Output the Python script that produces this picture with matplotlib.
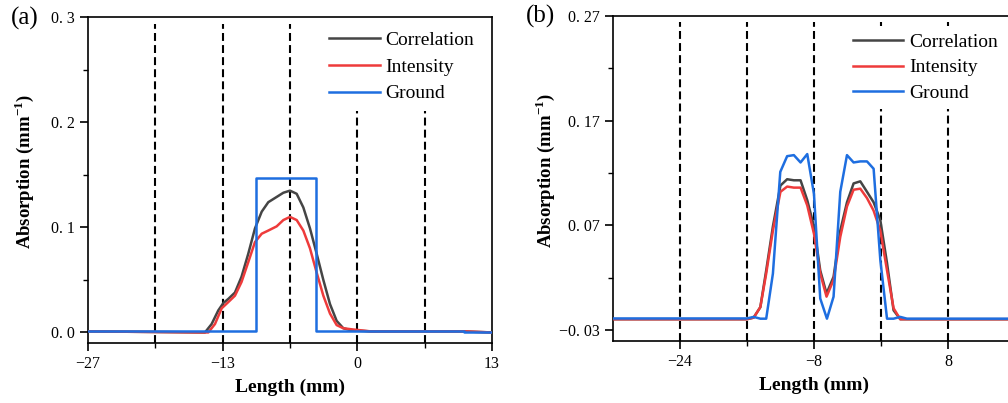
import matplotlib
matplotlib.use("Agg")
import matplotlib.pyplot as plt
import numpy as np

plt.rcParams['font.family'] = ['Liberation Serif', 'DejaVu Serif']
plt.rcParams['mathtext.fontset'] = 'custom'
plt.rcParams['mathtext.rm'] = 'Liberation Serif'
plt.rcParams['mathtext.bf'] = 'Liberation Serif:bold'

# ---- panel (a) data ----
a_corr_x = [-27, -15.42, -14.76, -14.1, -13.6, -13.1, -12.45, -11.8, -11.13, -10.47, -9.8,
            -9.15, -8.32, -7.66, -7.0, -6.34, -5.68, -5.02, -4.36, -3.7, -3.04, -2.38,
            -1.72, -0.9, 1.0, 10.2, 13]
a_corr_y = [0.001, 0.000, 0.008, 0.021, 0.028, 0.032, 0.038, 0.053, 0.075, 0.099, 0.115,
            0.124, 0.129, 0.133, 0.135, 0.132, 0.119, 0.099, 0.075, 0.050, 0.027, 0.011,
            0.004, 0.002, 0.001, 0.001, 0.0]
a_int_x = [-27, -15.09, -14.43, -13.76, -13.1, -12.45, -11.8, -11.13, -10.47, -9.8, -9.15,
           -8.32, -7.66, -7.0, -6.34, -5.68, -5.02, -4.36, -3.7, -3.04, -2.38, -1.72,
           -0.9, 1.0, 10.2, 13]
a_int_y = [0.001, 0.0, 0.008, 0.023, 0.029, 0.035, 0.048, 0.067, 0.086, 0.094, 0.097,
           0.101, 0.107, 0.110, 0.107, 0.097, 0.080, 0.057, 0.035, 0.018, 0.007, 0.004,
           0.003, 0.001, 0.001, 0.0]
a_gnd_x = [-27, -10.37, -10.37, -4.4, -4.4, 10.2, 10.2, 13]
a_gnd_y = [0.001, 0.001, 0.147, 0.147, 0.001, 0.001, 0.0, 0.0]

# ---- panel (b) data ----
b_corr_x = [-32, -16.0, -15.2, -14.4, -13.7, -12.9, -12.0, -11.2, -10.4, -9.6, -8.8, -8.0,
            -7.25, -6.5, -5.66, -4.86, -4.06, -3.27, -2.47, -1.67, -0.88, -0.08, 0.72,
            1.5, 2.3, 16]
b_corr_y = [-0.0195, -0.0195, -0.018, -0.008, 0.027, 0.069, 0.108, 0.114, 0.113, 0.113,
            0.094, 0.069, 0.027, 0.005, 0.021, 0.065, 0.092, 0.110, 0.112, 0.102, 0.092,
            0.075, 0.034, -0.011, -0.0195, -0.0195]
b_int_x = b_corr_x
b_int_y = [-0.0195, -0.0195, -0.018, -0.008, 0.024, 0.065, 0.102, 0.107, 0.106, 0.106,
           0.089, 0.062, 0.024, 0.002, 0.018, 0.059, 0.088, 0.104, 0.105, 0.096, 0.084,
           0.065, 0.027, -0.009, -0.0195, -0.0195]
b_gnd_x = [-32, -16.0, -15.2, -14.4, -13.7, -12.9, -12.02, -11.2, -10.4, -9.6, -8.8, -8.0,
           -7.25, -6.45, -5.66, -4.86, -4.06, -3.27, -2.47, -1.67, -0.88, -0.08, 0.72,
           1.5, 2.3, 3.1, 16]
b_gnd_y = [-0.0188, -0.0188, -0.0173, -0.019, -0.019, 0.024, 0.121, 0.136, 0.137, 0.130,
           0.138, 0.100, 0.0002, -0.019, 0.002, 0.102, 0.137, 0.130, 0.131, 0.131, 0.124,
           0.037, -0.019, -0.019, -0.0173, -0.019, -0.019]

a_xticks = [-27, -13.667, -0.333, 13]
a_xlabels = ['\u221227', '\u221213', '0', '13']
a_xminor = [-20.333, -7.0, 6.333]
a_yticks = [0.0, 0.1, 0.2, 0.3]
a_ylabels = ['0. 0', '0. 1', '0. 2', '0. 3']
a_yminor = [0.05, 0.15, 0.25]

b_xticks = [-24, -8, 8]
b_xlabels = ['\u221224', '\u22128', '8']
b_xminor = [-16, 0]
b_yticks = [-0.03, 0.07, 0.17, 0.27]
b_ylabels = ['\u22120. 03', '0. 07', '0. 17', '0. 27']
b_yminor = [0.02, 0.12, 0.22]

C_CORR = '#454545'
C_INT = '#ee3b3b'
C_GND = '#1e6ee0'

fig = plt.figure(figsize=(10.08, 4.03), dpi=100)
ax1 = fig.add_axes([0.0873, 0.149, 0.4008, 0.808])
ax2 = fig.add_axes([0.608, 0.1546, 0.399, 0.8065])


def style_axes(ax, xt, xl, xm, yt, yl, ym, xlim, ylim, vlines, ylab_x):
    for v in vlines:
        ax.axvline(v, ymin=0, ymax=0.98, color='black', lw=1.5,
                   linestyle=(0, (3.8, 2.0)), zorder=1)
    ax.set_xlim(*xlim)
    ax.set_ylim(*ylim)
    ax.set_xticks(xt)
    ax.set_xticklabels(xl)
    ax.set_xticks(xm, minor=True)
    ax.set_yticks(yt)
    ax.set_yticklabels(yl)
    ax.set_yticks(ym, minor=True)
    ax.tick_params(which='major', direction='out', length=6, width=1.2, labelsize=11.5)
    ax.tick_params(which='minor', direction='out', length=3.5, width=1.0)
    for s in ax.spines.values():
        s.set_linewidth(1.2)
    ax.set_xlabel('Length (mm)', fontsize=14, fontweight='bold', labelpad=5)
    ax.set_ylabel(r'Absorption (mm$^{\mathbf{-1}}$)', fontsize=13.5, fontweight='bold')
    ax.yaxis.set_label_coords(ylab_x, 0.525)


style_axes(ax1, a_xticks, a_xlabels, a_xminor, a_yticks, a_ylabels, a_yminor,
           (-27, 13), (-0.01, 0.3), a_xminor + a_xticks[1:3], -0.128)
style_axes(ax2, b_xticks, b_xlabels, b_xminor, b_yticks, b_ylabels, b_yminor,
           (-32, 16), (-0.04, 0.27), b_xticks + b_xminor, -0.138)

for ax, data in [(ax1, (a_corr_x, a_corr_y, a_int_x, a_int_y, a_gnd_x, a_gnd_y)),
                 (ax2, (b_corr_x, b_corr_y, b_int_x, b_int_y, b_gnd_x, b_gnd_y))]:
    cx, cy, ix, iy, gx, gy = data
    ax.plot(cx, cy, color=C_CORR, lw=1.8, label='Correlation', zorder=3)
    ax.plot(ix, iy, color=C_INT, lw=1.8, label='Intensity', zorder=3)
    ax.plot(gx, gy, color=C_GND, lw=1.8, label='Ground', zorder=3)

leg1 = ax1.legend(loc='upper left', bbox_to_anchor=(0.575, 0.984), fontsize=14,
                  frameon=True, facecolor='white', edgecolor='none', framealpha=1,
                  handlelength=2.6, handletextpad=0.3, labelspacing=0.47,
                  borderaxespad=0.0, borderpad=0.45, fancybox=False)
leg2 = ax2.legend(loc='upper left', bbox_to_anchor=(0.58, 0.967), fontsize=14,
                  frameon=True, facecolor='white', edgecolor='none', framealpha=1,
                  handlelength=2.6, handletextpad=0.3, labelspacing=0.41,
                  borderaxespad=0.0, borderpad=0.35, fancybox=False)
leg1.set_zorder(2)
leg2.set_zorder(2)

fig.text(0.011, 0.955, '(a)', fontsize=18, va='center', ha='left')
fig.text(0.522, 0.958, '(b)', fontsize=18, va='center', ha='left')

fig.savefig('out.png', dpi=100)
